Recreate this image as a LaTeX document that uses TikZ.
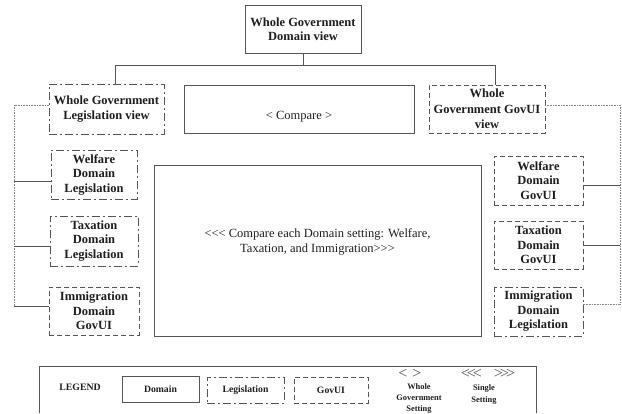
\documentclass[tikz,border=0pt]{standalone}
\usepackage{fontspec}
\setmainfont{Liberation Serif}
\begin{document}
\begin{tikzpicture}[x=1pt,y=-1pt]
\definecolor{linec}{HTML}{555555}
\definecolor{dotc}{HTML}{888888}
\definecolor{txt}{HTML}{1E1E1E}
\tikzset{
  box/.style={draw=linec, line width=0.9pt, inner sep=0pt, outer sep=0pt,
    align=center, text=txt, font=\bfseries\fontsize{12.5}{14.5}\selectfont},
  dashbox/.style={box, dash pattern=on 5pt off 3pt},
  dotdashbox/.style={box, dash pattern=on 8pt off 3pt on 2pt off 3pt},
  link/.style={draw=linec, line width=0.8pt},
  dotlink/.style={draw=dotc, line width=0.7pt, dash pattern=on 0.8pt off 0.8pt},
  legtext/.style={text=txt, align=center, inner sep=0pt},
}
% angle brackets kept apart so they are not joined into guillemets
\newcommand{\ltr}{<\kern0pt<\kern0pt<}
\newcommand{\gtr}{>\kern0pt>\kern0pt>}
\useasboundingbox (0,0) rectangle (622,413);

% hierarchy heads
\node[box, minimum width=116pt, minimum height=48pt] (top) at (303,29)
  {Whole Government\\Domain view};
\node[dotdashbox, minimum width=115pt, minimum height=50pt] (lv) at (106.5,109)
  {Whole Government\\Legislation view};
\node[box, minimum width=230pt, minimum height=48pt, font=\fontsize{12.5}{14.5}\selectfont] (cmp) at (299,109)
  {\raisebox{-10pt}[0pt][0pt]{< Compare >}};
\node[dashbox, minimum width=116pt, minimum height=48pt, font=\bfseries\fontsize{12.5}{15.5}\selectfont] (gv) at (487,109)
  {Whole\\Government GovUI\\view};

% left column
\node[dotdashbox, minimum width=86pt, minimum height=49pt] (wl) at (94,174.5)
  {Welfare\\Domain\\Legislation};
\node[dotdashbox, minimum width=88pt, minimum height=50pt] (tl) at (94,241)
  {Taxation\\Domain\\Legislation};
\node[dashbox, minimum width=90pt, minimum height=48pt] (ig) at (94,311)
  {Immigration\\Domain\\GovUI};

% central comparison area
\node[box, minimum width=327pt, minimum height=171pt, font=\fontsize{12.5}{15}\selectfont] (big) at (317.5,250.5)
  {\raisebox{6pt}[0pt][0pt]{\begin{tabular}{@{}c@{}}\ltr{} Compare each Domain setting: Welfare,\\Taxation, and Immigration\gtr\end{tabular}}};

% right column
\node[dashbox, minimum width=89pt, minimum height=49pt] (wg) at (538.5,180.5)
  {Welfare\\Domain\\GovUI};
\node[dashbox, minimum width=89pt, minimum height=48pt] (tg) at (538.5,245)
  {Taxation\\Domain\\GovUI};
\node[dotdashbox, minimum width=89pt, minimum height=49pt] (il) at (538.5,311.5)
  {Immigration\\Domain\\Legislation};

% tree connectors
\coordinate (hl) at (115,65);
\coordinate (hr) at (495,65);
\draw[link] (top.south) -- (top.south |- hl);
\draw[link] (hl) -- (hr);
\draw[link] (hl) -- (hl |- lv.north);
\draw[link] (hr) -- (hr |- gv.north);

% left bracket
\coordinate (lt) at (14,105);
\coordinate (l1) at (14,181);
\coordinate (l2) at (14,246);
\coordinate (lb) at (14,306);
\draw[dotlink] (lt -| lv.west) -- (lt) -- (lb);
\draw[link] (l1) -- (l1 -| wl.west);
\draw[link] (l2) -- (l2 -| tl.west);
\draw[link] (lb) -- (lb -| ig.west);

% right bracket
\coordinate (rt) at (620,105);
\coordinate (r1) at (620,185);
\coordinate (r2) at (620,245);
\coordinate (rb) at (620,304);
\draw[dotlink] (rt -| gv.east) -- (rt) -- (rb);
\draw[link] (r1) -- (r1 -| wg.east);
\draw[link] (r2) -- (r2 -| tg.east);
\draw[dotlink] (rb) -- (rb -| il.east);

% legend
\coordinate (lg1) at (39,413);
\coordinate (lg2) at (39,366);
\coordinate (lg3) at (536,366);
\coordinate (lg4) at (536,413);
\draw[link] (lg1) -- (lg2) -- (lg3) -- (lg4);
\node[legtext, font=\bfseries\fontsize{9.8}{11}\selectfont] (lgt) at (80,387) {LEGEND};
\node[box, minimum width=77pt, minimum height=26pt, font=\bfseries\fontsize{9.7}{11}\selectfont] (ld) at (160.5,389) {Domain};
\node[dotdashbox, minimum width=77pt, minimum height=26pt, font=\bfseries\fontsize{9.7}{11}\selectfont] (ll) at (245.5,390) {Legislation};
\node[dashbox, minimum width=74pt, minimum height=26pt, font=\bfseries\fontsize{9.7}{11}\selectfont] (lu) at (331,390) {GovUI};
\node[legtext, font=\fontsize{16}{16}\selectfont, text=linec] (ws) at (410,374) {<\hspace{5pt}>};
\node[legtext, font=\bfseries\fontsize{8.4}{11}\selectfont] (wst) at (419,399) {Whole\\Government\\Setting};
\node[legtext, font=\fontsize{16}{16}\selectfont, text=linec] (ss) at (488,374) {<\kern-3pt<\kern-3pt<\hspace{12pt}>\kern-3pt>\kern-3pt>};
\node[legtext, font=\bfseries\fontsize{8.4}{12}\selectfont] (sst) at (484,395) {Single\\Setting};
\end{tikzpicture}
\end{document}
